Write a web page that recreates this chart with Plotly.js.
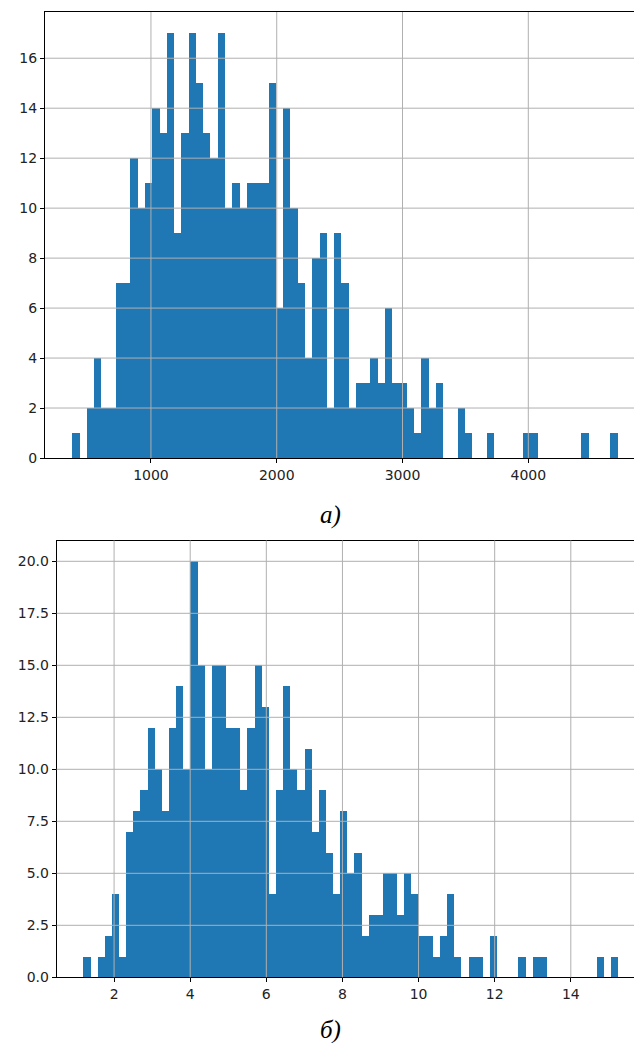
<!DOCTYPE html>
<html>
<head>
<meta charset="utf-8">
<script src="https://cdn.plot.ly/plotly-3.0.1.min.js"></script>
<style>html,body{margin:0;padding:0;background:#fff;}#chart{width:634px;height:1043px;}</style>
</head>
<body>
<div id="chart"></div>
<script>
// ---- Data ----
// Histogram a): 75 equal bins between minA and maxA
const minA = 374.5;
const maxA = 4711;
const countsA = [1,0,2,4,2,2,7,7,12,10, 11,14,13,17,9,13,17,15,13,12,
                 17,10,11,10,11,11,11,15,6,14, 10,7,4,8,9,2,9,7,2,3,
                 3,4,3,6,3,3,2,1,4,2, 3,0,0,2,1,0,0,1,0,0,
                 0,0,1,1,0,0,0,0,0,0, 1,0,0,0,1];
const xTicksA = [1000, 2000, 3000, 4000];
const yTicksA = [0, 2, 4, 6, 8, 10, 12, 14, 16];

// Histogram б): 75 equal bins between minB and maxB
const minB = 1.195;
const maxB = 15.247;
const countsB = [1,0,1,2,4,1,7,8,9,12, 10,8,12,14,10,20,15,10,15,15,
                 12,12,9,12,15,13,4,9,14,10, 9,11,7,9,6,4,8,5,6,2,
                 3,3,5,5,3,5,4,2,2,1, 2,4,1,0,1,1,0,2,0,0,
                 0,1,0,1,1,0,0,0,0,0, 0,0,1,0,1];
const xTicksB = [2, 4, 6, 8, 10, 12, 14];
const yTicksB = [0, 2.5, 5, 7.5, 10, 12.5, 15, 17.5, 20];

const captionA = '<i>а)</i>';
const captionB = '<i>б)</i>';

// ---- Build bars ----
function bins(min, max, counts) {
  const w = (max - min) / counts.length;
  return { x: counts.map((_, i) => min + w * (i + 0.5)), w: w };
}
const bA = bins(minA, maxA, countsA);
const bB = bins(minB, maxB, countsB);

const W = 634, H = 1043;
const blue = '#1f77b4';

const traces = [
  { type: 'bar', x: bA.x, y: countsA, width: bA.w, xaxis: 'x', yaxis: 'y',
    marker: { color: blue, line: { width: 0 } }, hoverinfo: 'x+y' },
  { type: 'bar', x: bB.x, y: countsB, width: bB.w, xaxis: 'x2', yaxis: 'y2',
    marker: { color: blue, line: { width: 0 } }, hoverinfo: 'x+y' }
];

const rangeA = maxA - minA, rangeB = maxB - minB;
const x0A = minA - 0.05 * rangeA;
const x0B = minB - 0.05 * rangeB;
// right edge of the picture cuts the axes (reference is cropped)
const x1A = x0A + (maxA + 0.05 * rangeA - x0A) * (634 - 45) / (645 - 45);
const x1B = x0B + (maxB + 0.05 * rangeB - x0B) * (634 - 56.7) / (645 - 56.7);

const tickFont = { family: 'DejaVu Sans, sans-serif', size: 14, color: '#222' };
const axisCommon = {
  showgrid: false, zeroline: false, showline: true, linecolor: '#000', linewidth: 1,
  ticks: 'outside', ticklen: 4, tickwidth: 1, tickcolor: '#000',
  tickfont: tickFont, fixedrange: true
};

const gridColor = '#b0b0b0';
const shapes = [];
xTicksA.forEach(v => shapes.push({ type: 'line', xref: 'x', yref: 'y domain', x0: v, x1: v, y0: 0, y1: 1, layer: 'above', line: { color: gridColor, width: 1 } }));
yTicksA.filter(v => v > 0).forEach(v => shapes.push({ type: 'line', xref: 'x domain', yref: 'y', x0: 0, x1: 1, y0: v, y1: v, layer: 'above', line: { color: gridColor, width: 1 } }));
xTicksB.forEach(v => shapes.push({ type: 'line', xref: 'x2', yref: 'y2 domain', x0: v, x1: v, y0: 0, y1: 1, layer: 'above', line: { color: gridColor, width: 1 } }));
yTicksB.filter(v => v > 0).forEach(v => shapes.push({ type: 'line', xref: 'x2 domain', yref: 'y2', x0: 0, x1: 1, y0: v, y1: v, layer: 'above', line: { color: gridColor, width: 1 } }));

const layout = {
  width: W, height: H,
  margin: { l: 0, r: 0, t: 0, b: 0 },
  paper_bgcolor: '#fff', plot_bgcolor: '#fff',
  showlegend: false,
  bargap: 0,
  xaxis: Object.assign({}, axisCommon, {
    domain: [45 / W, 1], anchor: 'y', range: [x0A, x1A], mirror: true,
    tickvals: xTicksA, ticktext: xTicksA.map(String)
  }),
  yaxis: Object.assign({}, axisCommon, {
    domain: [1 - 458 / H, 1 - 12 / H], anchor: 'x', range: [0, 17 * 1.05],
    tickvals: yTicksA, ticktext: yTicksA.map(String)
  }),
  xaxis2: Object.assign({}, axisCommon, {
    domain: [56.7 / W, 1], anchor: 'y2', range: [x0B, x1B], mirror: true,
    tickvals: xTicksB, ticktext: xTicksB.map(String)
  }),
  yaxis2: Object.assign({}, axisCommon, {
    domain: [1 - 977.3 / H, 1 - 540.5 / H], anchor: 'x2', range: [0, 20 * 1.05],
    tickvals: yTicksB, ticktext: yTicksB.map(v => v.toFixed(1))
  }),
  shapes: shapes,
  annotations: [
    { text: captionA, xref: 'paper', yref: 'paper', x: 330 / W, y: 1 - 515 / H,
      xanchor: 'center', yanchor: 'middle', showarrow: false,
      font: { family: 'Liberation Serif, Times New Roman, serif', size: 25, color: '#000' } },
    { text: captionB, xref: 'paper', yref: 'paper', x: 330 / W, y: 1 - 1030 / H,
      xanchor: 'center', yanchor: 'middle', showarrow: false,
      font: { family: 'Liberation Serif, Times New Roman, serif', size: 25, color: '#000' } }
  ]
};

Plotly.newPlot('chart', traces, layout, { staticPlot: true, displayModeBar: false });
</script>
</body>
</html>
